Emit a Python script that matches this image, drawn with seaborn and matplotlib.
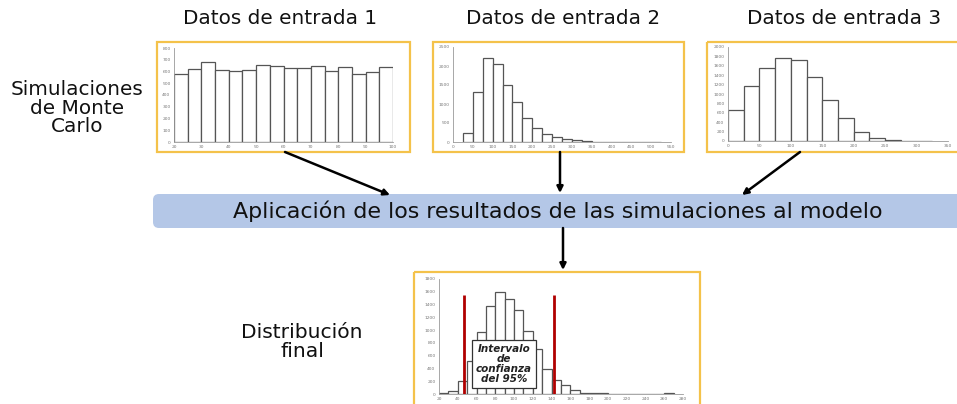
import numpy as np
import pandas as pd
import matplotlib
matplotlib.use("Agg")
import matplotlib.pyplot as plt
from matplotlib.patches import Rectangle, FancyBboxPatch
import seaborn as sns

sns.set_style("white")
plt.rcParams['font.family'] = ['DejaVu Sans']

# --- data ---
# Datos de entrada 1: uniform-ish, bins of 5 from 20 to 100
edges1 = list(range(20, 101, 5))
counts1 = [580, 619, 678, 613, 605, 616, 653, 647, 633, 630, 647, 602, 642, 577, 594, 642]

# Datos de entrada 2: right skewed, bins of 25 from 25 to 525
edges2 = list(range(25, 526, 25))
counts2 = [237, 1316, 2211, 2061, 1509, 1044, 640, 377, 219, 123,
           70, 44, 26, 12, 8, 5, 4, 3, 3, 2]

# Datos de entrada 3: bins of 25 from 0 to 325
edges3 = list(range(0, 326, 25))
counts3 = [662, 1160, 1559, 1772, 1730, 1359, 875, 498, 199, 71, 21, 10, 5]

# Distribución final: bins of 10 from 20 to 270
edges4 = list(range(20, 271, 10))
counts4 = [10, 40, 200, 518, 968, 1381, 1590, 1491, 1308, 984, 700, 395, 215,
           145, 65, 22, 15, 8, 5, 5, 4, 3, 3, 3, 10]
ci_bounds = [47, 143]
ci_top = 1550

titles = ["Datos de entrada 1", "Datos de entrada 2", "Datos de entrada 3"]

W, H = 957, 404
fig = plt.figure(figsize=(W / 100, H / 100), dpi=100)

# background axes in pixel coordinates for frames, arrows and labels
bg = fig.add_axes([0, 0, 1, 1])
bg.set_xlim(0, W)
bg.set_ylim(H, 0)
bg.axis("off")


def px_axes(left, top, right, bottom):
    return fig.add_axes([left / W, 1 - bottom / H, (right - left) / W, (bottom - top) / H])


def frame(left, top, right, bottom):
    bg.add_patch(Rectangle((left, top), right - left, bottom - top, fill=False,
                           edgecolor="#F4C24A", lw=1.6, zorder=1))


def hist(ax, edges, counts, xlim, xticks, ylim, yticks):
    df = pd.DataFrame({"left": edges[:-1], "count": counts})
    sns.histplot(data=df, x="left", weights="count", bins=edges, ax=ax, color="white",
                 edgecolor="#555555", linewidth=0.9, alpha=1)
    ax.set_xlim(*xlim)
    ax.set_ylim(*ylim)
    ax.set_xticks(xticks)
    ax.set_yticks(yticks)
    ax.set_xlabel("")
    ax.set_ylabel("")
    ax.tick_params(labelsize=3.2, colors="#777777", length=1.5, width=0.5, pad=1)
    for s in ["top", "right"]:
        ax.spines[s].set_visible(False)
    for s in ["left", "bottom"]:
        ax.spines[s].set_color("#999999")
        ax.spines[s].set_linewidth(0.6)
    ax.patch.set_alpha(0)


# frames
frame(157, 42, 410, 152)
frame(433, 42, 684, 152)
frame(707, 42, 962, 152)
frame(414, 272, 700, 412)

ax1 = px_axes(174, 48, 393, 142)
hist(ax1, edges1, counts1, (20, 100), range(20, 101, 10), (0, 800), range(0, 801, 100))
ax2 = px_axes(453, 47, 671, 142)
hist(ax2, edges2, counts2, (0, 550), range(0, 551, 50), (0, 2500), range(0, 2501, 500))
ax3 = px_axes(728, 47, 948, 141)
hist(ax3, edges3, counts3, (0, 350), range(0, 351, 50), (0, 2000), range(0, 2001, 200))
ax4 = px_axes(439, 279, 683, 394)
hist(ax4, edges4, counts4, (20, 280), range(20, 281, 20), (0, 1800), range(0, 1801, 200))

ax4.vlines(ci_bounds, 0, ci_top, color="#B00000", lw=2, zorder=5)
ax4.text(89, 465, "Intervalo\nde\nconfianza\ndel 95%", ha="center", va="center",
         fontsize=7.5, fontweight="bold", style="italic", linespacing=1.0,
         color="#222222", zorder=6,
         bbox=dict(boxstyle="square,pad=0.4", fc="white", ec="#333333", lw=0.9))

# titles
for x, t in zip([280, 563, 844], titles):
    bg.text(x, 18, t, ha="center", va="center", fontsize=14.4, color="#111111")

bg.text(77, 108, "Simulaciones\nde Monte\nCarlo", ha="center", va="center",
        fontsize=14.4, linespacing=0.98, color="#111111")
bg.text(302, 342, "Distribución\nfinal", ha="center", va="center",
        fontsize=14.6, linespacing=0.95, color="#111111")

# band
bg.add_patch(FancyBboxPatch((153, 194), 830, 34, boxstyle="round,pad=0,rounding_size=6",
                            fc="#B4C7E7", ec="none", zorder=1))
bg.text(558, 211, "Aplicación de los resultados de las simulaciones al modelo",
        ha="center", va="center", fontsize=15.9, color="#111111", zorder=2)

# arrows
arrows = [((285, 152), (390, 195)), ((560, 152), (560, 193)),
          ((800, 152), (742, 195)), ((563, 228), (563, 270))]
for (x0, y0), (x1, y1) in arrows:
    bg.annotate("", xy=(x1, y1), xytext=(x0, y0),
                arrowprops=dict(arrowstyle="-|>", color="black", lw=1.8,
                                mutation_scale=9, shrinkA=0, shrinkB=0))

fig.savefig("out.png", dpi=100)
